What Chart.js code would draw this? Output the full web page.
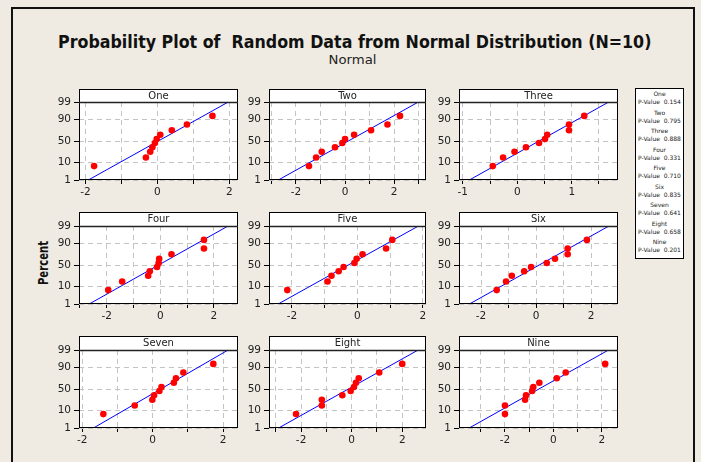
<!DOCTYPE html>
<html><head><meta charset="utf-8">
<script src="https://cdn.jsdelivr.net/npm/chart.js@4.4.0/dist/chart.umd.min.js"></script>
<style>
html,body{margin:0;padding:0;background:#efebe2;}
body{width:701px;height:462px;position:relative;overflow:hidden;font-family:"DejaVu Sans",sans-serif;}
#frame{position:absolute;left:11px;top:7px;width:684px;height:470px;border-left:2px solid #111;border-top:2px solid #111;border-right:2px solid #111;box-sizing:border-box;}
.fit{position:absolute;white-space:pre;transform-origin:center center;color:#111;}
#title{font-weight:bold;font-size:17px;}
#subtitle{font-size:13px;color:#222;}
#ylab{font-weight:bold;font-size:14px;}
#legend{position:absolute;left:635px;top:88px;width:49px;height:171px;background:#fff;border:1px solid #000;box-sizing:border-box;}
.lg{position:absolute;left:0;width:47px;text-align:center;font-size:6px;color:#222;white-space:pre;line-height:7px;}
canvas{position:absolute;}
</style>
</head><body>
<div id="frame"></div>
<div id="title" class="fit">Probability Plot of  Random Data from Normal Distribution (N=10)</div>
<div id="subtitle" class="fit">Normal</div>
<div id="ylab" class="fit">Percent</div>
<div id="legend"></div>
<script>
// ---------- data ----------
const panelNames = ["One","Two","Three","Four","Five","Six","Seven","Eight","Nine"];
const pValues = ["0.154","0.795","0.888","0.331","0.710","0.835","0.641","0.658","0.201"];
// plotted percent of each ranked point (same for every panel, N=10)
const percentRanks = [6.7, 16.3, 26.0, 35.6, 45.2, 54.8, 64.4, 74.0, 83.7, 93.3];
// sorted data values per panel
const xOne   = [-1.76, -0.32, -0.20, -0.14, -0.07, -0.02, 0.08, 0.40, 0.82, 1.53];
const xTwo   = [-1.47, -1.18, -0.95, -0.41, -0.11, 0.00, 0.37, 1.06, 1.73, 2.24];
const xThree = [-0.45, -0.26, -0.05, 0.16, 0.40, 0.51, 0.55, 0.95, 0.95, 1.23];
const xFour  = [-1.94, -1.42, -0.45, -0.39, -0.12, -0.06, -0.04, 0.42, 1.63, 1.63];
const xFive  = [-2.14, -0.91, -0.79, -0.57, -0.42, -0.09, -0.02, 0.16, 0.88, 1.07];
const xSix   = [-1.43, -1.09, -0.88, -0.43, -0.18, 0.39, 0.69, 1.15, 1.15, 1.85];
const xSeven = [-1.40, -0.51, -0.01, 0.04, 0.19, 0.25, 0.60, 0.66, 0.87, 1.72];
const xEight = [-2.20, -1.18, -1.18, -0.37, -0.04, 0.09, 0.17, 0.28, 1.09, 2.00];
const xNine  = [-2.00, -2.00, -1.17, -1.13, -0.88, -0.83, -0.58, 0.14, 0.51, 2.14];
const panelData = [xOne, xTwo, xThree, xFour, xFive, xSix, xSeven, xEight, xNine];
// fitted line: data value where it crosses 1% and 99%
const fitAt1  = [-1.92, -2.72, -0.88, -2.65, -2.42, -2.42, -1.68, -2.89, -3.48];
const fitAt99 = [ 1.97,  2.99,  1.68,  2.53,  1.87,  2.65,  2.14,  2.63,  2.28];
const fitPercents = [1, 99];
// axes
const yTickLabels = [1, 10, 50, 90, 99];
const xTickLabelsDefault = [-2, 0, 2];
const xTickLabelsThree = [-1, 0, 1];
const xMin = [-2.18, -3.10, -1.07, -3.03, -2.70, -2.80, -2.09, -3.27, -3.90];
const xMax = [ 2.24,  3.30,  1.85,  2.90,  2.10,  2.98,  2.42,  2.94,  2.67];

// ---------- normal probability transform ----------
function probit(p){
  const a=[-3.969683028665376e+01,2.209460984245205e+02,-2.759285104469687e+02,1.383577518672690e+02,-3.066479806614716e+01,2.506628277459239e+00];
  const b=[-5.447609879822406e+01,1.615858368580409e+02,-1.556989798598866e+02,6.680131188771972e+01,-1.328068155288572e+01];
  const c=[-7.784894002430293e-03,-3.223964580411365e-01,-2.400758277161838e+00,-2.549732539343734e+00,4.374664141464968e+00,2.938163982698783e+00];
  const d=[7.784695709041462e-03,3.224671290700398e-01,2.445134137142996e+00,3.754408661907416e+00];
  const pl=0.02425, ph=1-pl; let q,r;
  if(p<pl){q=Math.sqrt(-2*Math.log(p));return (((((c[0]*q+c[1])*q+c[2])*q+c[3])*q+c[4])*q+c[5])/((((d[0]*q+d[1])*q+d[2])*q+d[3])*q+1);}
  if(p<=ph){q=p-0.5;r=q*q;return (((((a[0]*r+a[1])*r+a[2])*r+a[3])*r+a[4])*r+a[5])*q/(((((b[0]*r+b[1])*r+b[2])*r+b[3])*r+b[4])*r+1);}
  q=Math.sqrt(-2*Math.log(1-p));return -(((((c[0]*q+c[1])*q+c[2])*q+c[3])*q+c[4])*q+c[5])/((((d[0]*q+d[1])*q+d[2])*q+d[3])*q+1);
}
const Y = pct => probit(pct/100);

// ---------- layout ----------
const colLeft=[79,269,459], colRight=[238,426,618];
const rowHeaderTop=[89,212,336], rowPlotTop=[102,226,350], rowPlotBottom=[180,304,428];
const AXW=40, AXH=26, PADR=6;

const panelDeco = {
  id:'panelDeco',
  beforeDraw(chart, args, o){
    const {ctx, chartArea:a} = chart;
    ctx.save();
    ctx.fillStyle='#ffffff';
    ctx.fillRect(a.left, a.top-o.headerH, a.right-a.left, a.bottom-a.top+o.headerH);
    ctx.restore();
  },
  afterDraw(chart, args, o){
    const {ctx, chartArea:a} = chart;
    ctx.save();
    ctx.strokeStyle='#000'; ctx.lineWidth=1;
    ctx.strokeRect(a.left+0.5, a.top-o.headerH+0.5, a.right-a.left-1, a.bottom-a.top+o.headerH-1);
    ctx.lineWidth=1.6; ctx.strokeStyle='#222';
    ctx.beginPath(); ctx.moveTo(a.left, a.top+0.5); ctx.lineTo(a.right, a.top+0.5); ctx.stroke();
    ctx.fillStyle='#222'; ctx.font='10px "DejaVu Sans"'; ctx.textAlign='center'; ctx.textBaseline='middle';
    ctx.fillText(o.title, (a.left+a.right)/2, a.top-o.headerH/2+0.5);
    ctx.restore();
  }
};

panelNames.forEach((name, i) => {
  const r=Math.floor(i/3), c=i%3;
  const L=colLeft[c], R=colRight[c], HT=rowHeaderTop[r], T=rowPlotTop[r], B=rowPlotBottom[r];
  const cv=document.createElement('canvas');
  const W=R-L+AXW+PADR, H=B-HT+1+AXH;
  cv.width=W; cv.height=H;
  cv.style.left=(L-AXW)+'px'; cv.style.top=(HT-1)+'px';
  cv.style.width=W+'px'; cv.style.height=H+'px';
  document.body.appendChild(cv);
  const xs=panelData[i];
  const labels = (i===2) ? xTickLabelsThree : xTickLabelsDefault;
  const step = (i===2) ? 0.5 : 1;
  const pts = xs.map((x,k)=>({x:x, y:Y(percentRanks[k])}));
  const line = [{x:fitAt1[i], y:Y(fitPercents[0])},{x:fitAt99[i], y:Y(fitPercents[1])}];
  new Chart(cv, {
    type:'scatter',
    data:{datasets:[
      {type:'line', data:line, borderColor:'#0000ff', borderWidth:1, pointRadius:0, fill:false, order:2},
      {data:pts, backgroundColor:'#ff0000', borderColor:'#ff0000', pointRadius:3.3, pointBorderWidth:0, order:1}
    ]},
    options:{
      responsive:false, animation:false, devicePixelRatio:1,
      layout:{autoPadding:false, padding:{left:0, top:T-HT+1, right:PADR, bottom:0}},
      plugins:{legend:{display:false}, tooltip:{enabled:false}, title:{display:false},
        panelDeco:{title:name, headerH:T-HT}},
      scales:{
        x:{type:'linear', min:xMin[i], max:xMax[i],
          afterFit:s=>{s.height=AXH;},
          afterBuildTicks:s=>{const t=[];const v0=Math.ceil(xMin[i]/step)*step;for(let v=v0; v<=xMax[i]+1e-9; v+=step){t.push({value:Math.round(v*100)/100});} s.ticks=t;},
          ticks:{autoSkip:false, maxRotation:0, padding:2, color:'#222', font:{family:'DejaVu Sans', size:10.5},
            callback:(v)=>labels.includes(v)?String(v):''},
          grid:{color:'#c4c4c4', lineWidth:1, tickLength:4, tickColor:'#000', tickBorderDash:[], tickWidth:1},
          border:{display:false, dash:[5,4]}
        },
        y:{type:'linear', min:Y(yTickLabels[0]), max:Y(yTickLabels[yTickLabels.length-1]),
          afterFit:s=>{s.width=AXW;},
          afterBuildTicks:s=>{s.ticks=yTickLabels.map(p=>({value:Y(p)}));},
          ticks:{autoSkip:false, padding:3, color:'#222', font:{family:'DejaVu Sans', size:10.5},
            callback:(v,idx)=>String(yTickLabels[idx])},
          grid:{color:'#c4c4c4', lineWidth:1, tickLength:5, tickColor:'#000', tickBorderDash:[], tickWidth:1},
          border:{display:false, dash:[5,4]}
        }
      }
    },
    plugins:[panelDeco]
  });
});

// legend
const lg=document.getElementById('legend');
panelNames.forEach((n,i)=>{
  const a=document.createElement('div'); a.className='lg'; a.textContent=n; a.style.top=(1+i*18.5)+'px'; lg.appendChild(a);
  const b=document.createElement('div'); b.className='lg'; b.textContent='P-Value  '+pValues[i]; b.style.top=(9+i*18.5)+'px'; lg.appendChild(b);
});

// fit header texts
function place(id, cx, cy, targetW, rot){
  const el=document.getElementById(id);
  const w=el.offsetWidth, h=el.offsetHeight;
  el.style.left=(cx-w/2)+'px'; el.style.top=(cy-h/2)+'px';
  const sx=targetW/w;
  el.style.transform=(rot?'rotate(-90deg) ':'')+'scaleX('+sx+')';
}
place('title', 354.5, 42, 593, false);
place('subtitle', 352, 59, 48, false);
place('ylab', 42, 263, 44, true);
</script>
</body></html>
